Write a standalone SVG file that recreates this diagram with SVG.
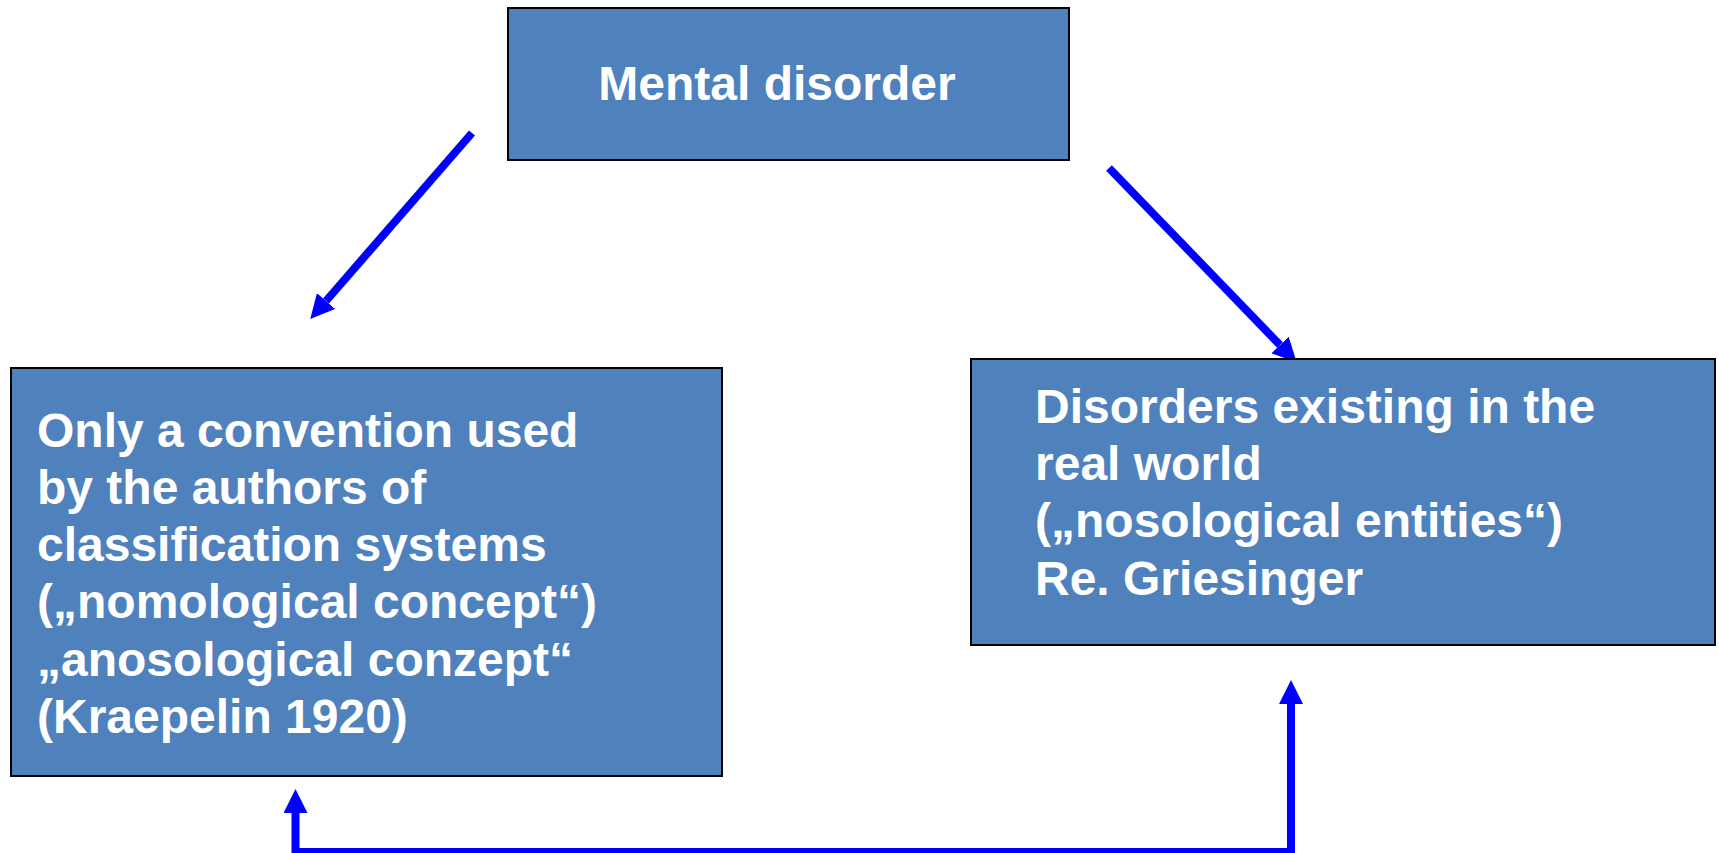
<svg xmlns="http://www.w3.org/2000/svg" width="1719" height="853" viewBox="0 0 1719 853">
  <style>
    .box { fill: #4F81BD; stroke: #000000; stroke-width: 2; }
    .label { font-family: "Liberation Sans", Arial, sans-serif; font-weight: bold; font-size: 48px; fill: #FFFFFF; }
    .link { fill: none; stroke: #0000FF; stroke-width: 8; }
  </style>
  <defs>
    <marker id="head" markerUnits="userSpaceOnUse" viewBox="0 0 24 24" markerWidth="24" markerHeight="24" refX="0" refY="12" orient="auto-start-reverse">
      <path d="M0,0 L24,12 L0,24 Z" fill="#0000FF"/>
    </marker>
  </defs>

  <rect width="1719" height="853" fill="#FFFFFF"/>

  <g id="connectors">
    <line class="link" x1="472" y1="133" x2="326" y2="301" marker-end="url(#head)"/>
    <line class="link" x1="1109" y1="168" x2="1280" y2="345" marker-end="url(#head)"/>
    <path class="link" d="M295.5,813 L295.5,852 L1291,852 L1291,704" marker-start="url(#head)" marker-end="url(#head)"/>
  </g>

  <g id="node-mental-disorder">
    <rect class="box" x="508" y="8" width="561" height="152"/>
    <text class="label" x="777" y="100" text-anchor="middle">Mental disorder</text>
  </g>

  <g id="node-convention">
    <rect class="box" x="11" y="368" width="711" height="408"/>
    <text class="label">
      <tspan x="37" y="447">Only a convention used</tspan>
      <tspan x="37" y="504">by the authors of</tspan>
      <tspan x="37" y="561">classification systems</tspan>
      <tspan x="37" y="618">(„nomological concept“)</tspan>
      <tspan x="37" y="676">„anosological conzept“</tspan>
      <tspan x="37" y="733">(Kraepelin 1920)</tspan>
    </text>
  </g>

  <g id="node-real-world">
    <rect class="box" x="971" y="359" width="744" height="286"/>
    <text class="label">
      <tspan x="1035" y="423">Disorders existing in the</tspan>
      <tspan x="1035" y="480">real world</tspan>
      <tspan x="1035" y="537">(„nosological entities“)</tspan>
      <tspan x="1035" y="595">Re. Griesinger</tspan>
    </text>
  </g>
</svg>
